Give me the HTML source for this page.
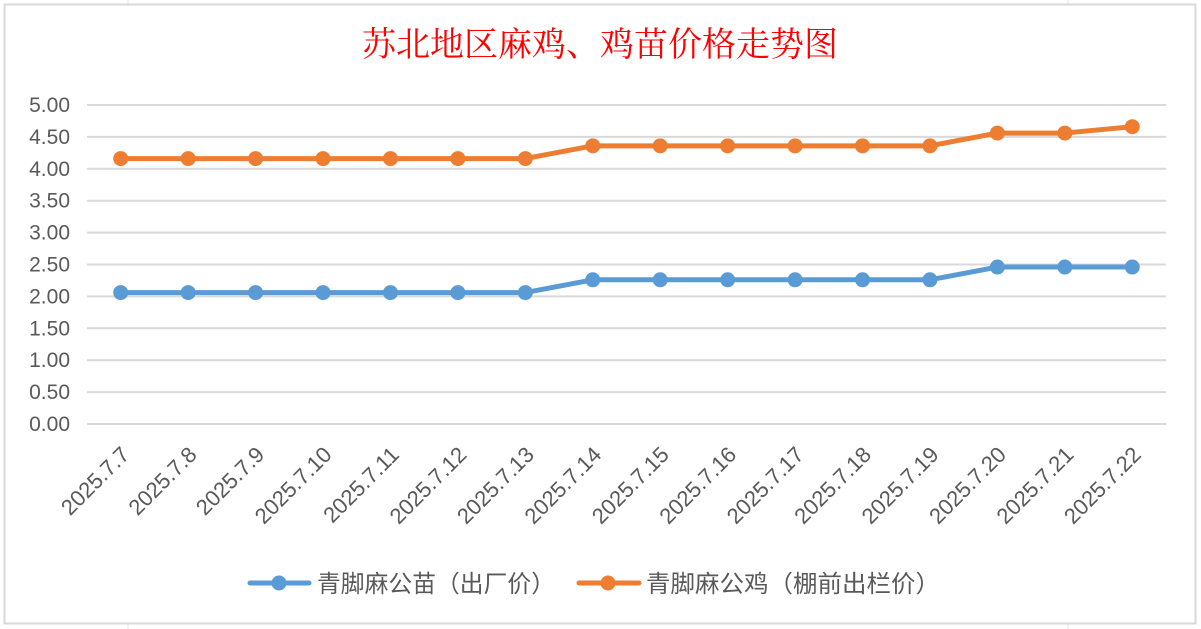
<!DOCTYPE html>
<html><head><meta charset="utf-8">
<style>
body{margin:0;background:#fff;}
svg{display:block;font-family:"Liberation Sans","Noto Sans CJK SC",sans-serif;}
</style></head>
<body>
<svg width="1201" height="629" viewBox="0 0 1201 629">
<g stroke="#e4e4e4" stroke-width="1">
<line x1="128" y1="0" x2="128" y2="629"/><line x1="1068" y1="0" x2="1068" y2="629"/>
</g>
<rect x="4.5" y="4.5" width="1191" height="619" fill="#fff" stroke="#d9d9d9" stroke-width="2"/>
<text x="600" y="56" text-anchor="middle" font-size="34" fill="#ff0000" textLength="476" lengthAdjust="spacingAndGlyphs" font-family="'Liberation Serif','Noto Serif CJK SC',serif">苏北地区麻鸡、鸡苗价格走势图</text>
<g id="grid"></g>
<g id="xlabels"></g>
<g id="series"></g>
<g fill="#595959">
<g>
<line x1="250" y1="583" x2="309" y2="583" stroke="#5b9bd5" stroke-width="5" stroke-linecap="round"/>
<circle cx="279" cy="583" r="7.5" fill="#5b9bd5"/>
<text x="317" y="592" font-size="24" textLength="238" lengthAdjust="spacingAndGlyphs" fill="#595959">青脚麻公苗（出厂价）</text>
</g>
<g>
<line x1="579" y1="583" x2="639" y2="583" stroke="#ed7d31" stroke-width="5" stroke-linecap="round"/>
<circle cx="608" cy="583" r="7.5" fill="#ed7d31"/>
<text x="646" y="592" font-size="24" textLength="294" lengthAdjust="spacingAndGlyphs" fill="#595959">青脚麻公鸡（棚前出栏价）</text>
</g>
</g>
</svg>
<script>
const categories=["2025.7.7","2025.7.8","2025.7.9","2025.7.10","2025.7.11","2025.7.12","2025.7.13","2025.7.14","2025.7.15","2025.7.16","2025.7.17","2025.7.18","2025.7.19","2025.7.20","2025.7.21","2025.7.22"];
const chickPrice=[2.06,2.06,2.06,2.06,2.06,2.06,2.06,2.26,2.26,2.26,2.26,2.26,2.26,2.46,2.46,2.46];
const roosterPrice=[4.16,4.16,4.16,4.16,4.16,4.16,4.16,4.36,4.36,4.36,4.36,4.36,4.36,4.56,4.56,4.66];
const yTicks=[0,0.5,1,1.5,2,2.5,3,3.5,4,4.5,5];

const NS="http://www.w3.org/2000/svg";
const plotL=87,plotR=1166,yTop=105,yBot=424,yMax=5;
const step=(plotR-plotL)/categories.length;
function xPos(i){return plotL+step*(i+0.5);}
function yPos(v){return yBot-(v/yMax)*(yBot-yTop);}
function mk(tag,attrs,parent){const e=document.createElementNS(NS,tag);for(const k in attrs)e.setAttribute(k,attrs[k]);parent.appendChild(e);return e;}

const grid=document.getElementById('grid');
yTicks.forEach(t=>{
  const l=mk('line',{x1:plotL,x2:plotR,y1:yPos(t),y2:yPos(t),stroke:'#d9d9d9','stroke-width':2},grid);
  
  
  const tx=mk('text',{x:70,y:yPos(t)+7,'text-anchor':'end','font-size':21,fill:'#595959'},grid);
  tx.textContent=t.toFixed(2);
  
  
});

const xl=document.getElementById('xlabels');
categories.forEach((c,i)=>{
  const x=xPos(i)+10,y=456;
  const tx=mk('text',{x:x,y:y,'text-anchor':'end','font-size':22,fill:'#595959',transform:`rotate(-45 ${x} ${y})`},xl);
  tx.textContent=c;
  
  
});

const sg=document.getElementById('series');
function drawSeries(vals,color,name){
  const g=mk('g',{},sg);
  
  
  const pts=vals.map((v,i)=>xPos(i)+','+yPos(v)).join(' ');
  const pl=mk('polyline',{points:pts,fill:'none',stroke:color,'stroke-width':5,'stroke-linejoin':'round','stroke-linecap':'round'},g);
  
  
  vals.forEach((v,i)=>{
    const c=mk('circle',{cx:xPos(i),cy:yPos(v),r:7.5,fill:color},g);
    
    
  });
}
drawSeries(chickPrice,'#5b9bd5','series-chick');
drawSeries(roosterPrice,'#ed7d31','series-rooster');
</script>
</body></html>
